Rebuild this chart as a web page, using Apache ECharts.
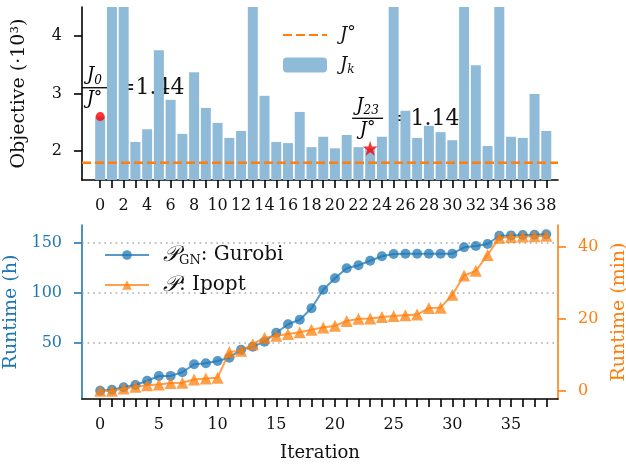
<!DOCTYPE html>
<html><head><meta charset="utf-8">
<script src="https://cdn.jsdelivr.net/npm/echarts@6/dist/echarts.min.js"></script>
<style>html,body{margin:0;padding:0;background:#fff}#c{width:626px;height:465px}</style>
</head><body><div id="c"></div>
<script>
// ---------- data ----------
const iterations = [0,1,2,3,4,5,6,7,8,9,10,11,12,13,14,15,16,17,18,19,20,21,22,23,24,25,26,27,28,29,30,31,32,33,34,35,36,37,38];
// Objective J_k (·10^3); bars above 4.5 are clipped in the reference
const objective = [2.60,5.20,5.20,2.16,2.38,3.75,2.89,2.30,3.37,2.75,2.49,2.23,2.35,5.20,2.96,2.16,2.14,2.68,2.07,2.25,2.05,2.28,2.07,2.05,2.25,5.20,2.70,2.23,2.44,2.33,2.19,5.20,3.49,2.09,5.20,2.25,2.23,2.99,2.35];
const jStar = 1.80;
const highlightA = 0;   // J_0
const highlightB = 23;  // J_23
// Runtime (h), P_GN: Gurobi
const gurobiHours = [2,3,5.4,7.7,12,16.7,16.8,20.4,28.5,29.4,31.7,35,43,46,51,60,68.4,73,84.4,103,114.4,124.4,127.5,132,136.5,138.7,139,139,139,139,139,145.4,146.7,148.7,157,157.3,157.7,158,158.4];
// Runtime (min), P: Ipopt
const ipoptMinutes = [0.1,0.1,0.7,1.2,1.6,1.8,2.2,2.3,3.2,3.5,3.7,10.8,11.2,13.0,14.8,15.3,15.8,16.3,17.0,17.6,18.1,19.4,20.0,20.1,20.5,20.8,21.0,21.2,23.0,23.1,26.7,32.0,33.3,37.7,42.5,42.7,42.8,42.9,43.0];
const topXTicks = [0,2,4,6,8,10,12,14,16,18,20,22,24,26,28,30,32,34,36,38];
const bottomXTicks = [0,5,10,15,20,25,30,35];
const objTicks = [2,3,4];
const hourTicks = [50,100,150];
const minuteTicks = [0,20,40];

// ---------- styling ----------
const FF = 'DejaVu Serif';
const BLUE = '#1f77b4', ORANGE = '#ff7f0e', BAR = '#8fbbd9';
const XMIN = -1.55, XMAX = 39.0;
const STAR = 'path://M50,0 L61.2,34.5 L97.6,34.5 L68.2,55.9 L79.4,90.5 L50,69.1 L20.6,90.5 L31.8,55.9 L2.4,34.5 L38.8,34.5 Z';

const chart = echarts.init(document.getElementById('c'), null, {renderer:'canvas'});

function xAxisCfg(grid, ticks, extra) {
  return Object.assign({
    gridIndex: grid, type:'value', min: XMIN, max: XMAX,
    axisLine:{show:true, onZero:false, lineStyle:{color:'#000', width:1.6}},
    axisTick:{show:true, customValues: iterations, length:8, lineStyle:{color:'#000', width:1.6}},
    axisLabel:{customValues: ticks, margin:18, fontSize:16, color:'#111', fontFamily:FF},
    splitLine:{show:false}
  }, extra||{});
}
function yAxisCfg(grid, min, max, ticks, color, labelColor, margin, extra) {
  return Object.assign({
    gridIndex: grid, type:'value', min:min, max:max,
    axisLine:{show:true, onZero:false, lineStyle:{color:color, width:1.6}},
    axisTick:{show:true, customValues: ticks, length:8, lineStyle:{color:color, width:1.6}},
    axisLabel:{customValues: ticks, margin:margin, fontSize:16, color:labelColor, fontFamily:FF},
    splitLine:{show:false},
    nameLocation:'middle', nameRotate:90,
    nameTextStyle:{fontSize:19, color:labelColor, fontFamily:FF}
  }, extra||{});
}

const richMath = {
  i:{fontStyle:'italic', fontFamily:FF, fontSize:18, color:'#111', lineHeight:22},
  s:{fontStyle:'italic', fontFamily:FF, fontSize:12, color:'#111', verticalAlign:'bottom', lineHeight:14},
  n:{fontFamily:FF, fontSize:17, color:'#111', verticalAlign:'top', lineHeight:18},
  p:{fontStyle:'italic', fontFamily:FF+', DejaVu Sans', fontSize:22, color:'#111', lineHeight:24},
  g:{fontFamily:FF, fontSize:13, color:'#111', verticalAlign:'bottom', lineHeight:13},
  t:{fontFamily:FF, fontSize:20, color:'#111', lineHeight:24}
};

const option = {
  animation:false,
  backgroundColor:'#fff',
  grid:[
    {left:82, top:7, width:476, height:173, containLabel:false, outerBoundsMode:'none'},
    {left:82, top:225, width:476, height:174, containLabel:false, outerBoundsMode:'none'}
  ],
  xAxis:[
    xAxisCfg(0, topXTicks),
    xAxisCfg(1, bottomXTicks, {name:'Iteration', nameLocation:'middle', nameGap:45,
      nameTextStyle:{fontSize:18, color:'#111', fontFamily:FF}})
  ],
  yAxis:[
    yAxisCfg(0, 1.5, 4.5, objTicks, '#000', '#111', 20, {name:'Objective (·10³)', nameGap:53}),
    yAxisCfg(1, -6.3, 167.7, hourTicks, BLUE, BLUE, 20, {name:'Runtime (h)', nameGap:55, position:'left'}),
    yAxisCfg(1, -2.2, 46.0, minuteTicks, ORANGE, ORANGE, 20, {name:'Runtime (min)', nameGap:52, position:'right'})
  ],
  legend:[
    {data:[{name:'J°', itemStyle:{opacity:0}}, {name:'Jk'}], orient:'vertical', left:277, top:19,
     itemWidth:44, itemHeight:15, itemGap:12,
     textStyle:{rich:richMath, padding:[0,0,0,8]},
     formatter: n => n==='Jk' ? '{i|J}{s|k}' : '{i|J}{n|°}'},
    {data:['GN','P'], orient:'vertical', left:99, top:239, itemWidth:44, itemHeight:12, itemGap:7,
     textStyle:{rich:richMath, padding:[0,0,0,9]},
     formatter: n => n==='GN' ? '{p|𝒫}{g|GN}{t|: Gurobi}' : '{p|𝒫}{t|: Ipopt}'}
  ],
  series:[
    {name:'Jk', type:'bar', xAxisIndex:0, yAxisIndex:0, barWidth:10,
     data: iterations.map((k,i)=>[k, objective[i]]), itemStyle:{color:BAR}, clip:true, z:1},
    {name:'J°', type:'line', xAxisIndex:0, yAxisIndex:0, symbol:'none',
     data:[[XMIN, jStar],[XMAX, jStar]], lineStyle:{color:ORANGE, width:2.5, type:[9,4]}, itemStyle:{color:ORANGE}, z:3},
    {name:'J0pt', type:'scatter', xAxisIndex:0, yAxisIndex:0, symbol:'circle', symbolSize:9,
     data:[[iterations[highlightA], objective[highlightA]]], itemStyle:{color:'#ff0000'}, z:5},
    {name:'J23pt', type:'scatter', xAxisIndex:0, yAxisIndex:0, symbol:STAR, symbolSize:15,
     data:[[iterations[highlightB], objective[highlightB]]], itemStyle:{color:'#ff0000'}, z:5},
    {name:'GN', type:'line', xAxisIndex:1, yAxisIndex:1, symbol:'circle', symbolSize:10, showAllSymbol:true,
     data: iterations.map((k,i)=>[k, gurobiHours[i]]),
     lineStyle:{color:BLUE, width:2, opacity:0.75}, itemStyle:{color:BLUE, opacity:0.75}, z:3,
     markLine:{silent:true, symbol:['none','none'], label:{show:false},
       lineStyle:{color:'#aaaaaa', width:1.6, type:[1.6,4]},
       data: hourTicks.map(v=>({yAxis:v})), z:1}},
    {name:'P', type:'line', xAxisIndex:1, yAxisIndex:2, symbol:'triangle', symbolSize:12, showAllSymbol:true,
     data: iterations.map((k,i)=>[k, ipoptMinutes[i]]),
     lineStyle:{color:ORANGE, width:2, opacity:0.75}, itemStyle:{color:ORANGE, opacity:0.75}, z:4}
  ]
};
chart.setOption(option);

// ---------- ratio annotations, positioned through the chart's scales ----------
function ratioAnnotation(k, anchorX, anchorY, barW, gap) {
  const p = chart.convertToPixel({gridIndex:0}, [anchorX, anchorY]);
  const ratio = (objective[k]/jStar).toFixed(2);
  const cx = p[0] + barW/2;
  return {type:'group', children:[
    {type:'line', shape:{x1:p[0], y1:p[1], x2:p[0]+barW, y2:p[1]}, style:{stroke:'#000', lineWidth:1.3}},
    {type:'text', x:cx, y:p[1]-1, style:{text:'{i|J}{s|'+k+'}', rich:richMath, align:'center', verticalAlign:'bottom'}},
    {type:'text', x:cx, y:p[1]+1, style:{text:'{i|J}{n|°}', rich:richMath, align:'center', verticalAlign:'top'}},
    {type:'text', x:p[0]+barW+gap, y:p[1]+1, style:{text:'='+ratio, fontFamily:FF, fontSize:22, fill:'#111', align:'left', verticalAlign:'middle'}}
  ]};
}
chart.setOption({graphic:[
  ratioAnnotation(highlightA, XMIN, 3.10, 25, 10),
  ratioAnnotation(highlightB, 21.46, 2.57, 31, 9)
]});
</script></body></html>
